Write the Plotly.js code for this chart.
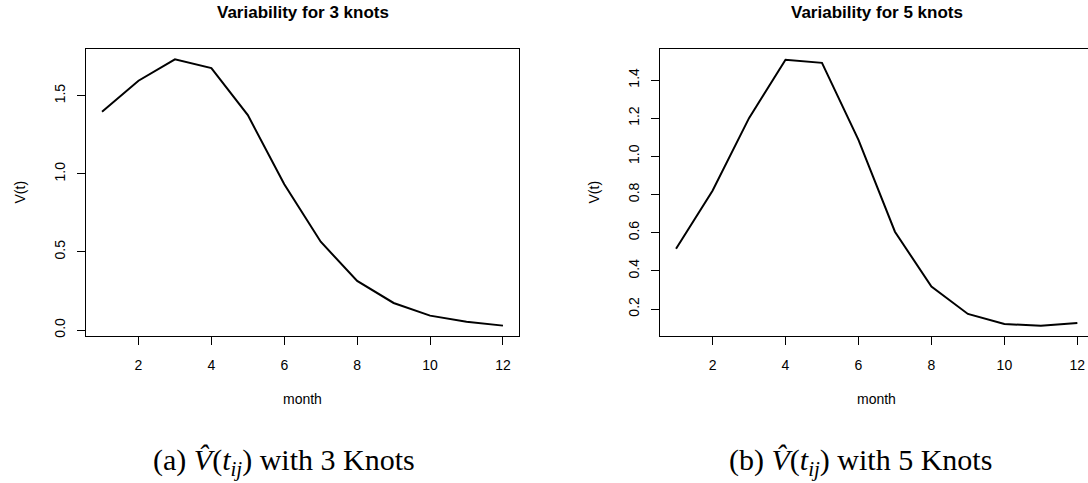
<!DOCTYPE html>
<html>
<head>
<meta charset="utf-8">
<script src="https://cdn.plot.ly/plotly-3.0.1.min.js"></script>
<style>
html,body{margin:0;padding:0;overflow:hidden;background:#fff;width:1088px;height:483px;}
#chart{width:1100px;height:483px;}
</style>
</head>
<body>
<div id="chart"></div>
<script>
// ---- data ----
const months = [1,2,3,4,5,6,7,8,9,10,11,12];
const v3knots = [1.398, 1.596, 1.733, 1.677, 1.376, 0.933, 0.565, 0.314, 0.173, 0.092, 0.053, 0.028];
const v5knots = [0.516, 0.820, 1.200, 1.506, 1.490, 1.086, 0.605, 0.317, 0.174, 0.121, 0.112, 0.127];
const xTicks = [2,4,6,8,10,12];
const yTicksLeft = [0.0, 0.5, 1.0, 1.5];
const yTicksRight = [0.2, 0.4, 0.6, 0.8, 1.0, 1.2, 1.4];
const titles = ["Variability for 3 knots", "Variability for 5 knots"];
const xLabel = "month";
const yLabel = "V(t)";
const captions = ["(a) <i>V̂</i>(<i>t<sub>ij</sub></i>) with 3 Knots",
                  "(b) <i>V̂</i>(<i>t<sub>ij</sub></i>) with 5 Knots"];

// ---- layout geometry (pixels) ----
const W = 1100, H = 483;
const px = v => v / W, py = v => 1 - v / H;
const boxTop = 49, boxBottom = 336;
const leftBox = [86, 519], rightBox = [660, 1093.4];

const sans = "Liberation Sans, Arial, sans-serif";
const serif = "Liberation Serif, serif";
const axisCommon = {
  showline: true, mirror: true, linecolor: "#000", linewidth: 1,
  showgrid: false, zeroline: false,
  ticks: "outside", ticklen: 8, tickwidth: 1, tickcolor: "#000",
  tickfont: {family: sans, size: 14, color: "#000"},
  fixedrange: true
};

const traces = [
  {x: months, y: v3knots, xaxis: "x", yaxis: "y", mode: "lines",
   line: {color: "#000", width: 2}, hoverinfo: "skip"},
  {x: months, y: v5knots, xaxis: "x2", yaxis: "y2", mode: "lines",
   line: {color: "#000", width: 2}, hoverinfo: "skip"}
];

function ann(text, xp, yp, font, extra) {
  return Object.assign({text: text, x: px(xp), y: py(yp), xref: "paper", yref: "paper",
    showarrow: false, xanchor: "center", yanchor: "middle", font: font}, extra || {});
}

const layout = {
  width: W, height: H,
  margin: {l: 0, r: 0, t: 0, b: 0},
  paper_bgcolor: "#fff", plot_bgcolor: "#fff",
  showlegend: false,
  xaxis: Object.assign({}, axisCommon, {
    domain: [px(leftBox[0]), px(leftBox[1])], anchor: "y",
    range: [0.56, 12.44], tickvals: xTicks, ticklabelstandoff: 8
  }),
  yaxis: Object.assign({}, axisCommon, {
    domain: [py(boxBottom), py(boxTop)], anchor: "x",
    range: [-0.0384, 1.799], tickvals: yTicksLeft, tickformat: ".1f",
    tickangle: -90, ticklabelstandoff: 6
  }),
  xaxis2: Object.assign({}, axisCommon, {
    domain: [px(rightBox[0]), px(rightBox[1])], anchor: "y2",
    range: [0.56, 12.44], tickvals: xTicks, ticklabelstandoff: 8
  }),
  yaxis2: Object.assign({}, axisCommon, {
    domain: [py(boxBottom), py(boxTop)], anchor: "x2",
    range: [0.0585, 1.5625], tickvals: yTicksRight, tickformat: ".1f",
    tickangle: -90, ticklabelstandoff: 6
  }),
  annotations: [
    ann("<b>" + titles[0] + "</b>", 302.5, 13, {family: sans, size: 17, color: "#000"}),
    ann("<b>" + titles[1] + "</b>", 876.5, 13, {family: sans, size: 17, color: "#000"}),
    ann(xLabel, 302.5, 399, {family: sans, size: 14, color: "#000"}),
    ann(xLabel, 876.5, 399, {family: sans, size: 14, color: "#000"}),
    ann(yLabel, 19, 192.5, {family: sans, size: 14, color: "#000"}, {textangle: -90}),
    ann(yLabel, 593, 192.5, {family: sans, size: 14, color: "#000"}, {textangle: -90}),
    ann(captions[0], 284, 462, {family: serif, size: 30, color: "#000"}),
    ann(captions[1], 860, 462, {family: serif, size: 30, color: "#000"})
  ]
};

Plotly.newPlot("chart", traces, layout, {staticPlot: true, displayModeBar: false});
</script>
</body>
</html>
